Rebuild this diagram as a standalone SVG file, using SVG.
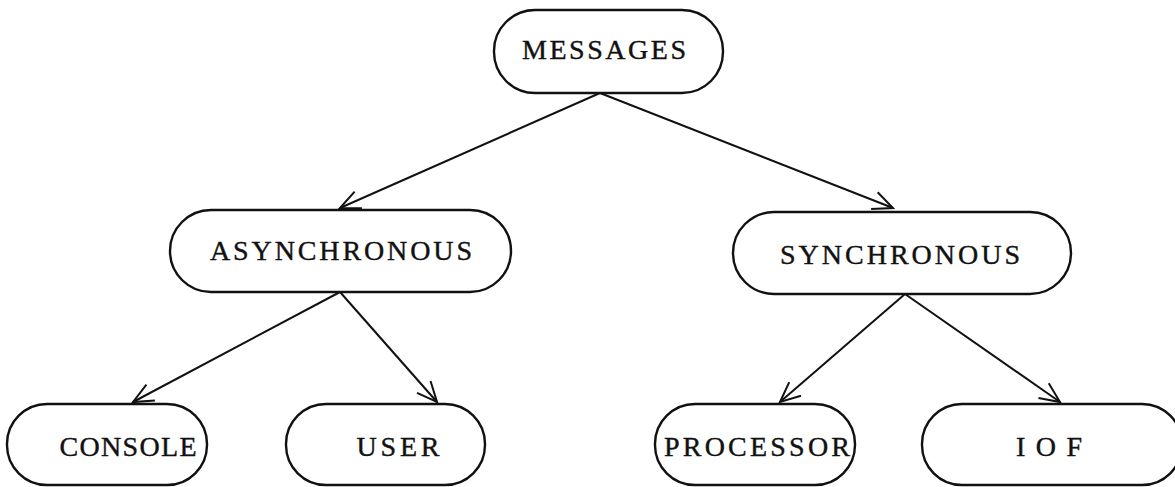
<svg xmlns="http://www.w3.org/2000/svg" width="1175" height="487" viewBox="0 0 1175 487">
<style>
.node rect{fill:#fff;stroke:#111;stroke-width:2.4}
.node text{font-family:"Liberation Serif","DejaVu Serif",serif;font-size:28px;fill:#111;stroke:#111;stroke-width:0.4;text-anchor:middle}
.edge{stroke:#111;stroke-width:2;fill:none;marker-end:url(#ah)}
</style>
<defs>
<marker id="ah" viewBox="0 0 24 24" refX="22" refY="12" markerWidth="24" markerHeight="24" markerUnits="userSpaceOnUse" orient="auto">
<path d="M2,3 L22,12 L2,21" fill="none" stroke="#111" stroke-width="2"/>
</marker>
</defs>
<rect width="1175" height="487" fill="#fff"/>
<g id="connectors">
<line class="edge" x1="600" y1="93" x2="340" y2="208"/>
<line class="edge" x1="600" y1="93" x2="893" y2="208"/>
<line class="edge" x1="340" y1="292" x2="133" y2="402"/>
<line class="edge" x1="340" y1="292" x2="437" y2="402"/>
<line class="edge" x1="905" y1="294" x2="780" y2="402"/>
<line class="edge" x1="905" y1="294" x2="1060" y2="402"/>
</g>
<g id="messages" class="node"><rect x="494" y="10" width="229" height="83" rx="41"/><text x="604" y="59" textLength="164" lengthAdjust="spacing">MESSAGES</text></g>
<g id="asynchronous" class="node"><rect x="170" y="210" width="341" height="82" rx="41"/><text x="341" y="260" textLength="262" lengthAdjust="spacing">ASYNCHRONOUS</text></g>
<g id="synchronous" class="node"><rect x="733" y="212" width="338" height="82" rx="41"/><text x="900" y="264" textLength="240" lengthAdjust="spacing">SYNCHRONOUS</text></g>
<g id="console" class="node"><rect x="7" y="404" width="200" height="81" rx="40"/><text x="128" y="456" textLength="137" lengthAdjust="spacing">CONSOLE</text></g>
<g id="user" class="node"><rect x="286" y="404" width="199" height="81" rx="40"/><text x="398" y="456" textLength="83" lengthAdjust="spacing">USER</text></g>
<g id="processor" class="node"><rect x="655" y="404" width="200" height="81" rx="40"/><text x="757" y="456" textLength="186" lengthAdjust="spacing">PROCESSOR</text></g>
<g id="iof" class="node"><rect x="922" y="404" width="260" height="81" rx="40"/><text x="1049" y="456" textLength="66" lengthAdjust="spacing">IOF</text></g>
</svg>
